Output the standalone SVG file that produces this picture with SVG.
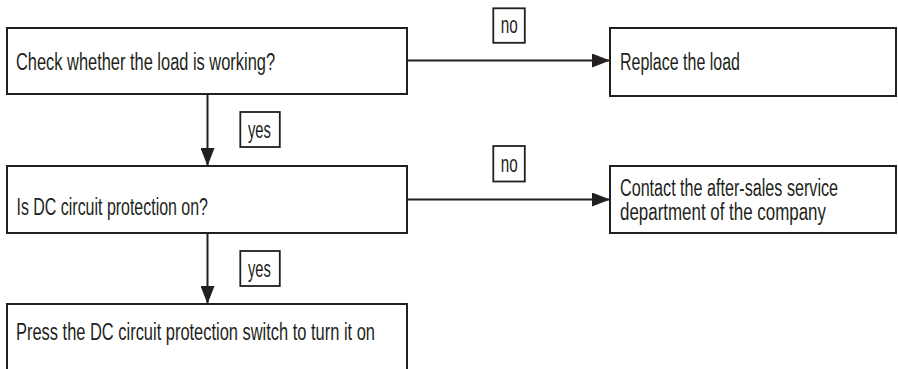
<svg xmlns="http://www.w3.org/2000/svg" width="898" height="369" viewBox="0 0 898 369">
<defs>
<style>
.box{fill:#fff;stroke:#231f20;stroke-width:2}
.lbl{fill:#fff;stroke:#231f20;stroke-width:1.8}
.t{font-family:"Liberation Sans Narrow","Liberation Sans",Arial,sans-serif;font-size:23px;fill:#231f20}
.c{stroke:#231f20;stroke-width:2;fill:none}
</style>
<marker id="ah" markerUnits="userSpaceOnUse" markerWidth="18" markerHeight="14" refX="18" refY="7" orient="auto">
<path d="M0,0 L18,7 L0,14 Z" fill="#231f20"/>
</marker>
</defs>
<rect width="898" height="369" fill="#fff"/>
<g id="connectors">
<line class="c" x1="407" y1="60.5" x2="610" y2="60.5" marker-end="url(#ah)"/>
<line class="c" x1="407" y1="199.5" x2="610" y2="199.5" marker-end="url(#ah)"/>
<line class="c" x1="207.5" y1="94" x2="207.5" y2="166" marker-end="url(#ah)"/>
<line class="c" x1="207.5" y1="233" x2="207.5" y2="304" marker-end="url(#ah)"/>
</g>
<g id="n1">
<rect class="box" x="7" y="28" width="400" height="66"/>
<text class="t" transform="matrix(0.82,0,0,1,16,70)" textLength="315.9" lengthAdjust="spacingAndGlyphs">Check whether the load is working?</text>
</g>
<g id="n2">
<rect class="box" x="610" y="28" width="286" height="68"/>
<text class="t" transform="matrix(0.82,0,0,1,620,70)" textLength="146.3" lengthAdjust="spacingAndGlyphs">Replace the load</text>
</g>
<g id="n3">
<rect class="box" x="7" y="166" width="400" height="67"/>
<text class="t" transform="matrix(0.82,0,0,1,16.5,215)" textLength="233.5" lengthAdjust="spacingAndGlyphs">Is DC circuit protection on?</text>
</g>
<g id="n4">
<rect class="box" x="610" y="166" width="286" height="67"/>
<text class="t" transform="matrix(0.82,0,0,1,620,196)" textLength="265.9" lengthAdjust="spacingAndGlyphs">Contact the after-sales service</text>
<text class="t" transform="matrix(0.82,0,0,1,620,220)" textLength="251.2" lengthAdjust="spacingAndGlyphs">department of the company</text>
</g>
<g id="n5">
<path class="box" d="M7,372 V304 H407 V372"/>
<text class="t" transform="matrix(0.82,0,0,1,16,340)" textLength="437.8" lengthAdjust="spacingAndGlyphs">Press the DC circuit protection switch to turn it on</text>
</g>
<g id="l1">
<rect class="lbl" x="493.3" y="8.3" width="31.5" height="34.5"/>
<text class="t" transform="matrix(0.82,0,0,1,500.7,33.3)" textLength="20.7" lengthAdjust="spacingAndGlyphs">no</text>
</g>
<g id="l2">
<rect class="lbl" x="240.3" y="112" width="39.5" height="35"/>
<text class="t" transform="matrix(0.82,0,0,1,248,138.3)" textLength="28" lengthAdjust="spacingAndGlyphs">yes</text>
</g>
<g id="l3">
<rect class="lbl" x="493.3" y="146" width="31.5" height="35.5"/>
<text class="t" transform="matrix(0.82,0,0,1,500.7,171.5)" textLength="20.7" lengthAdjust="spacingAndGlyphs">no</text>
</g>
<g id="l4">
<rect class="lbl" x="240.3" y="251" width="39.5" height="35"/>
<text class="t" transform="matrix(0.82,0,0,1,248,277)" textLength="28" lengthAdjust="spacingAndGlyphs">yes</text>
</g>
</svg>
